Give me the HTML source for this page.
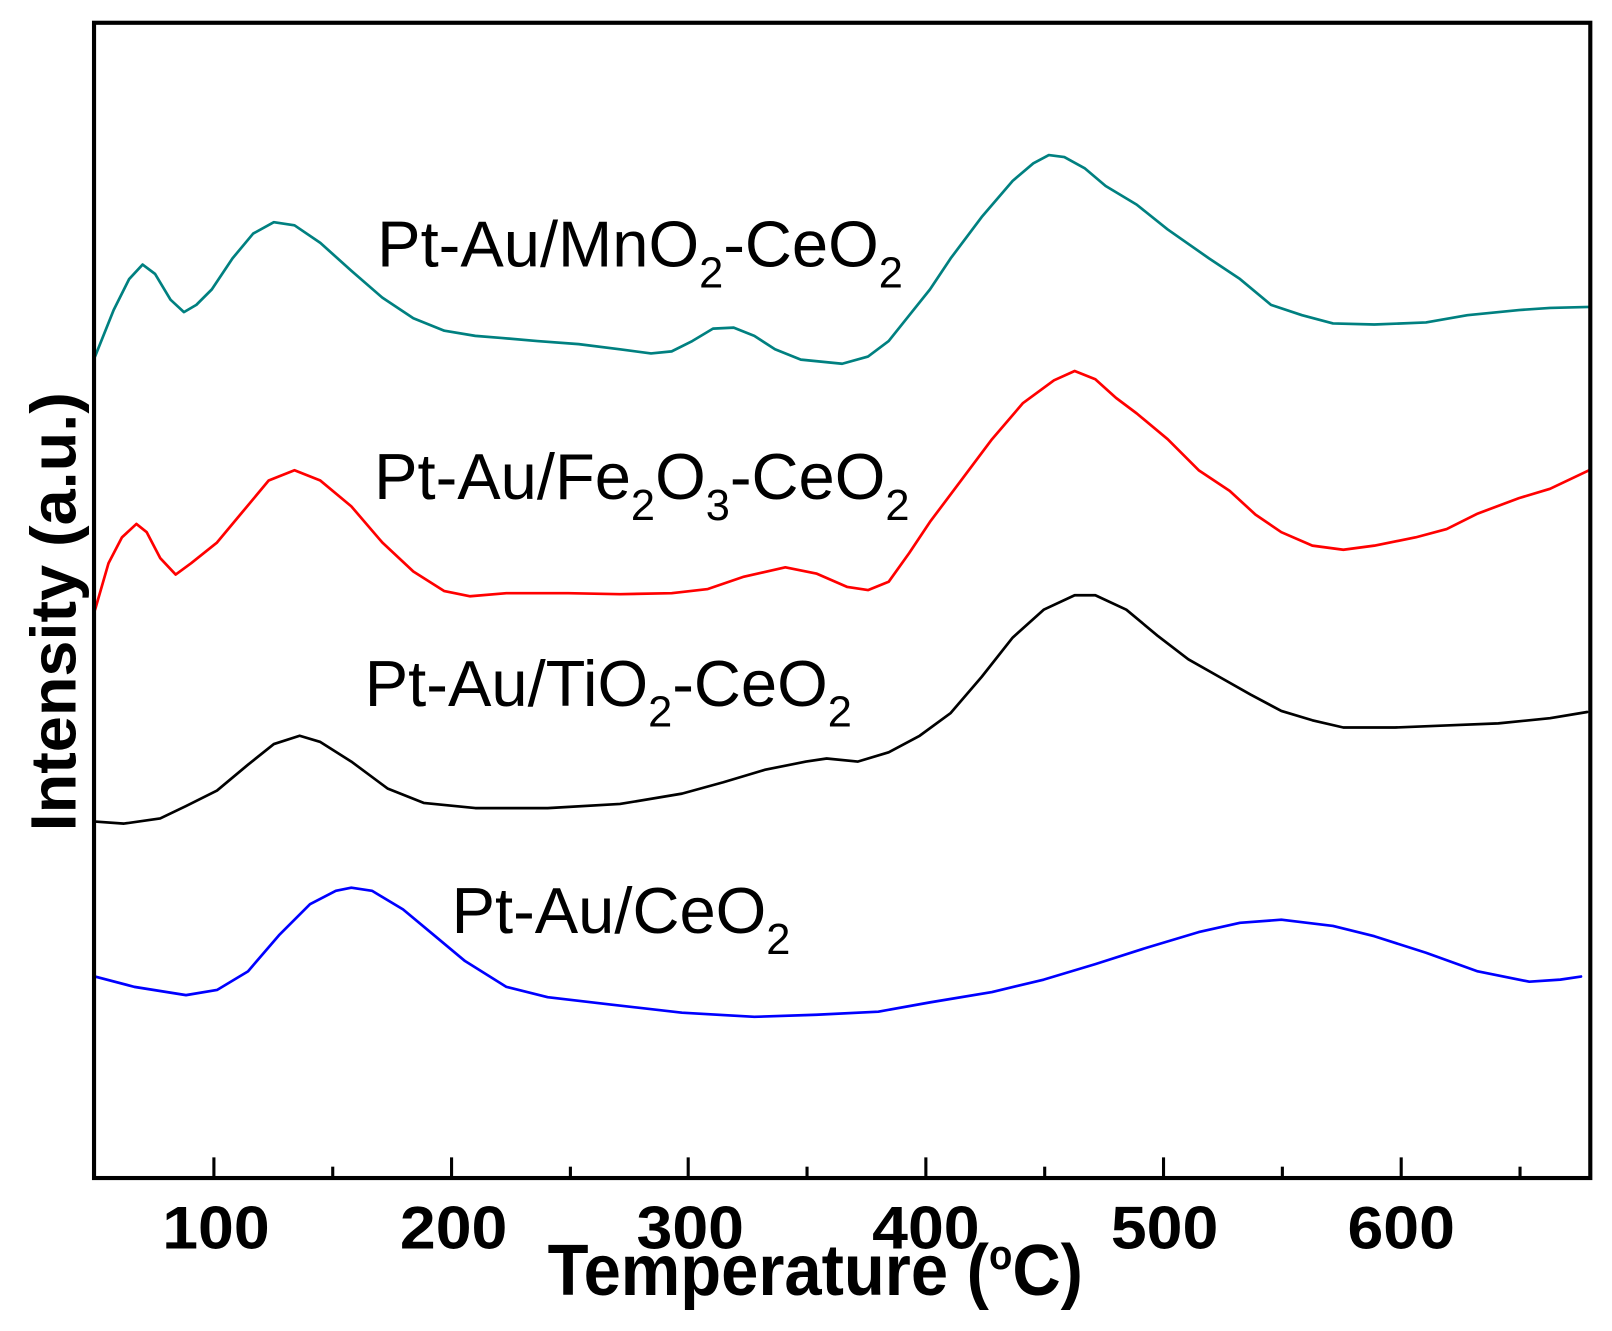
<!DOCTYPE html>
<html><head><meta charset="utf-8"><style>html,body{margin:0;padding:0;background:#fff}svg{display:block}</style></head>
<body>
<svg width="1612" height="1331" viewBox="0 0 1560 1288" xmlns="http://www.w3.org/2000/svg" font-family="Liberation Sans, Arial, sans-serif">
<rect width="1560" height="1288" fill="#fff"/>
<g fill="none" stroke-width="2.6" stroke-linejoin="round" stroke-linecap="round">
<polyline stroke="#008080" points="92,345 110,300 125,270 138,256 150,265 165,290 178,302 190,295 205,280 225,250 245,226 265,215 285,218 310,235 340,262 370,288 400,308 430,320 460,325 485,327 520,330 560,333 600,338 630,342 650,340 670,330 690,318 710,317 730,325 750,338 775,348 815,352 840,345 860,330 880,305 900,280 920,250 950,210 980,175 1000,158 1015,150 1030,152 1050,163 1070,180 1100,198 1130,222 1170,250 1200,270 1230,295 1260,305 1290,313 1330,314 1380,312 1420,305 1470,300 1500,298 1538,297"/>
<polyline stroke="#ff0000" points="92,590 105,545 118,520 132,507 142,515 155,540 170,556 185,545 210,525 235,495 260,465 285,455 310,465 340,490 370,525 400,553 430,572 455,577 490,574 550,574 600,575 650,574 685,570 720,558 760,549 790,555 820,568 840,571 860,563 880,535 900,505 930,465 960,425 990,390 1020,368 1040,359 1060,367 1080,385 1100,400 1130,425 1160,455 1190,475 1215,498 1240,515 1270,528 1300,532 1330,528 1370,520 1400,512 1430,497 1470,482 1500,473 1538,455"/>
<polyline stroke="#000000" points="92,795 120,797 155,792 180,780 210,765 240,740 265,720 290,712 310,718 340,737 375,763 410,777 460,782 530,782 600,778 660,768 700,757 740,745 780,737 800,734 830,737 860,728 890,712 920,690 950,655 980,617 1010,590 1040,576 1060,576 1090,590 1120,615 1150,638 1180,655 1210,672 1240,688 1270,697 1300,704 1350,704 1400,702 1450,700 1500,695 1536,689"/>
<polyline stroke="#0000ff" points="92,945 130,955 180,963 210,958 240,940 270,905 300,875 325,862 340,859 360,862 390,880 420,905 450,930 490,955 530,965 590,972 660,980 730,984 790,982 850,979 900,970 960,960 1010,948 1060,933 1110,917 1160,902 1200,893 1240,890 1290,896 1330,906 1380,922 1430,940 1480,950 1510,948 1530,945"/>
</g>
<rect x="91" y="22" width="1448" height="1118" fill="none" stroke="#000" stroke-width="4"/>
<g stroke="#000" stroke-width="3">
<line x1="207" y1="1140" x2="207" y2="1120"/><line x1="437" y1="1140" x2="437" y2="1120"/><line x1="666" y1="1140" x2="666" y2="1120"/><line x1="896" y1="1140" x2="896" y2="1120"/><line x1="1126" y1="1140" x2="1126" y2="1120"/><line x1="1356" y1="1140" x2="1356" y2="1120"/>
<line x1="322" y1="1140" x2="322" y2="1129"/><line x1="552" y1="1140" x2="552" y2="1129"/><line x1="781" y1="1140" x2="781" y2="1129"/><line x1="1011" y1="1140" x2="1011" y2="1129"/><line x1="1241" y1="1140" x2="1241" y2="1129"/><line x1="1471" y1="1140" x2="1471" y2="1129"/>
</g>
<g font-weight="bold" font-size="58" text-anchor="middle" fill="#000">
<text x="209" y="1208" textLength="104" lengthAdjust="spacingAndGlyphs">100</text><text x="439" y="1208" textLength="104" lengthAdjust="spacingAndGlyphs">200</text><text x="668" y="1208" textLength="104" lengthAdjust="spacingAndGlyphs">300</text><text x="896" y="1208" textLength="104" lengthAdjust="spacingAndGlyphs">400</text><text x="1127" y="1208" textLength="104" lengthAdjust="spacingAndGlyphs">500</text><text x="1356" y="1208" textLength="104" lengthAdjust="spacingAndGlyphs">600</text>
<text x="789" y="1253" font-size="70" textLength="518" lengthAdjust="spacingAndGlyphs">Temperature (<tspan font-size="40" dy="-25">o</tspan><tspan dy="25">C)</tspan></text>
<text transform="translate(73,592) rotate(-90)" font-size="62" textLength="425" lengthAdjust="spacingAndGlyphs">Intensity (a.u.)</text>
</g>
<g font-size="63" fill="#000">
<text x="365" y="258">Pt-Au/MnO<tspan font-size="42" dy="20">2</tspan><tspan dy="-20">-CeO</tspan><tspan font-size="42" dy="20">2</tspan></text>
<text x="362" y="483">Pt-Au/Fe<tspan font-size="42" dy="20">2</tspan><tspan dy="-20">O</tspan><tspan font-size="42" dy="20">3</tspan><tspan dy="-20">-CeO</tspan><tspan font-size="42" dy="20">2</tspan></text>
<text x="353" y="683">Pt-Au/TiO<tspan font-size="42" dy="20">2</tspan><tspan dy="-20">-CeO</tspan><tspan font-size="42" dy="20">2</tspan></text>
<text x="437" y="903">Pt-Au/CeO<tspan font-size="42" dy="20">2</tspan></text>
</g>
</svg>
</body></html>
